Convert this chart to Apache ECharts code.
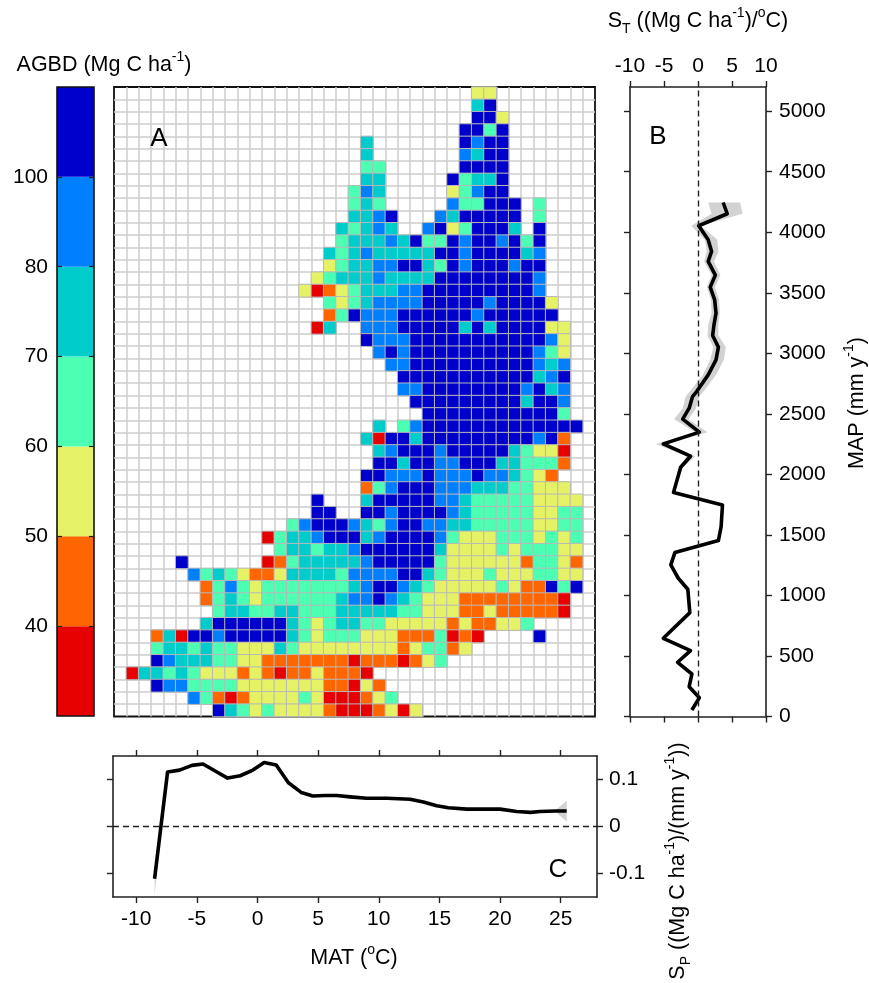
<!DOCTYPE html>
<html>
<head>
<meta charset="utf-8">
<style>html,body{margin:0;padding:0;background:#fff}#c{width:869px;height:983px}</style>
<script src="https://cdn.jsdelivr.net/npm/echarts@6/dist/echarts.min.js"></script>
</head>
<body>
<div id="c"></div>
<script>
// Classes of AGBD, low to high
const classCodes = ['R','O','Y','G','T','B','D'];
const classColors = ['#e60000','#ff6600','#e6f266','#4dffb3','#00cccc','#0080ff','#0000cc'];
const colorbarEdgeLabels = ['', '40', '50', '60', '70', '80', '100', ''];
const colorbarEdges = [1,2,3,4,5,6];

// Grid of cells: first occupied column per row, then class letters ('.' = no data)
const rowStart = [29,29,29,28,20,20,20,20,19,19,19,18,18,17,17,16,15,17,17,16,20,21,22,23,23,24,25,21,20,21,21,20,20,16,16,14,12,13,5,6,7,7,8,7,3,3,3,1,3,6,8];
const rowCells = [
'YY','TD','DDY','DDGD',
'T.......DBDD',
'T.......BTDD',
'GG......DDDD',
'TT.....DGTTD',
'GBT.....YGBDD',
'GTG.....BGGDDD.G',
'TTBD...BTDDDDD.G',
'TGTBT..BDYGDDDT.D',
'GTTTBTDGGDBDDBDGD',
'TGTBTTTTTDDBDDDDTB',
'YGTTBBDDTGDBDDDBDD',
'YGTTTBTTTTDDDDDDDDB',
'YROYGTTTBBDDDDDDDDDB',
'GYGTBBBBDDDDDBDDDDY',
'OGDBBBDDDDDDBDDDDDD',
'RT..BBBDDDDDTDTDDDDYY',
'DBBBDDDDDDDDDDDBY',
'BDBDDDDDDDDDDBGY',
'BBDDDDDDDDDDBTB',
'DDDDDDDDDDDTBD',
'BBDDDDDDDDBDTB',
'DDDDDDDDDTDDB',
'DDDDDDDDDDDG',
'T.GBDDDDDDDDDDDDD',
'TRDDTDDDDDDDDDBDO',
'TBDDDBDDDDDTGYYR',
'DDTDDBBDDDTTGGGO',
'DDBBBDBBBDBBTGYO',
'OGBDDDBBBTTTGGYYY',
'D...TDDDDDBBTGGGGGYYYY',
'DD..DDBDDDDBTGGGGGYYGG',
'GBDDDBTGBDDBBTTGGGGGYYGG',
'RGTTBDDDTBDDDDBGYYYGGGYGYG',
'GTTGTTBDDDDDDTYYYYGYGGGYY',
'D......ROGTTTTTBDDDDDGYYYYYYOGGYO',
'BGTGYOOYTTTTGBBBBDDTGYYYGYYYGGYY',
'OGBGYGGGGGGGTBDDBTGYYYYYGYOODGD',
'OGTGYGGGGGGTBBDBTGYYYOOOOOOOOR',
'GTTGGTTGGGTTTTTGGYYYOOYOOOOOR',
'TDDDDDDTGYGTTGGYYYYYOYOOYYG',
'OTRDDBDDDDDTGYGGGYYYOOOGROR....D',
'GTTGTGGYYYTGYYYYYYYYOYGGOY',
'DBTTTGGYYOOOOOOOROOOROYG',
'RTTGTGYYYOYOROOYOOOR',
'DBBGGGGYYYYYYYOORYO',
'BGOROYYYYGYRRROYG',
'DTGYGYYYYORRROYRY'
];

// Panel B: S_T against MAP
const mapValues = [54,155,246,351,448,544,646,858,1051,1142,1252,1354,1453,1569,1748,1850,2059,2150,2252,2349,2456,2547,2643,2684,2822,2946,3051,3147,3235,3332,3442,3547,3646,3759,3842,3938,4054,4153,4246];
const stValues  = [-0.9,0.2,-1.3,-0.9,-3.0,-1.1,-5.1,-1.2,-1.5,-2.9,-4.0,-3.4,3.0,3.4,3.6,-3.6,-2.55,-1.1,-5.1,0.2,-2.25,-1.3,-0.8,-0.2,1.5,2.65,3.0,2.15,2.35,2.65,2.45,1.8,2.55,1.5,2.0,1.5,0.1,4.3,3.7];
const stLower   = [-1.0,0.1,-1.4,-1.0,-3.1,-1.2,-5.2,-1.3,-1.6,-3.0,-4.1,-3.5,2.9,3.3,3.5,-3.7,-2.8,-1.7,-6.2,-0.4,-3.5,-2.25,-1.8,-1.2,0.7,1.8,2.25,1.4,1.5,2.0,1.9,1.3,2.0,0.9,1.3,1.0,-1.0,2.0,1.5];
const stUpper   = [-0.8,0.3,-1.2,-0.8,-2.9,-1.0,-5.0,-1.1,-1.4,-2.8,-3.9,-3.3,3.1,3.5,3.7,-3.5,-2.2,-0.4,-4.4,1.4,-1.4,-0.3,0.2,0.8,2.65,3.8,4.1,3.0,3.0,3.2,3.1,2.5,3.3,2.35,3.0,2.85,0.4,6.55,6.2];

// Panel C: S_P against MAT
const matValues = [-8.49,-7.42,-6.43,-5.41,-4.5,-3.49,-2.47,-1.43,-0.38,0.55,1.54,2.55,3.6,4.56,5.58,6.54,7.64,9.0,10.66,12.58,13.68,14.78,15.74,17.25,18.63,20,21.37,22.53,23.3,24.6,25.5];
const spValues  = [-0.111,0.116,0.12,0.13,0.133,0.118,0.103,0.108,0.12,0.136,0.131,0.093,0.0725,0.065,0.066,0.066,0.063,0.06,0.06,0.058,0.052,0.044,0.04,0.037,0.037,0.037,0.032,0.03,0.032,0.033,0.033];
const spLower   = [-0.145,0.115,0.119,0.129,0.132,0.117,0.102,0.107,0.119,0.135,0.13,0.092,0.0715,0.064,0.065,0.065,0.062,0.059,0.059,0.057,0.051,0.043,0.039,0.036,0.036,0.036,0.031,0.029,0.031,0.031,0.0106];
const spUpper   = [-0.085,0.117,0.121,0.131,0.134,0.119,0.104,0.109,0.121,0.137,0.132,0.094,0.0735,0.066,0.067,0.067,0.064,0.061,0.061,0.059,0.053,0.045,0.041,0.038,0.038,0.038,0.033,0.031,0.033,0.035,0.055];

const mapTicks = [0,500,1000,1500,2000,2500,3000,3500,4000,4500,5000];
const stTicks = [-10,-5,0,5,10];
const matTicks = [-10,-5,0,5,10,15,20,25];
const spTicks = [-0.1,0,0.1];

const FONT = '"Liberation Sans", Arial, sans-serif';
const FS = 21;

const colCount = 39, rowCount = 51;
const colNames = Array.from({length: colCount}, (_, i) => String(i));
const rowNames = Array.from({length: rowCount}, (_, i) => String(i));
const cellData = [];
rowCells.forEach((s, r) => {
  for (let k = 0; k < s.length; k++) {
    const cls = classCodes.indexOf(s[k]);
    if (cls >= 0) cellData.push([rowStart[r] + k, r, cls]);
  }
});

const GREY = '#cdcdcd';
const axisLine = {show: true, onZero: false, lineStyle: {color: '#222', width: 1.6}};
const noLine = {show: false};
const gridLines = {show: true, interval: 0, showMinLine: false, showMaxLine: false, lineStyle: {color: GREY, width: 1.5}};

function frameAxis(o) {
  return Object.assign({
    type: 'value', axisLine: axisLine, splitLine: {show: false},
    axisLabel: {show: false}
  }, o);
}
function ticksAt(vals, len) {
  return {show: true, inside: false, length: len || 6, customValues: vals, lineStyle: {color: '#222', width: 1.4}};
}
function labelsAt(vals, margin) {
  return {show: true, customValues: vals, margin: margin, color: '#000', fontFamily: FONT, fontSize: FS,
    showMinLabel: true, showMaxLabel: true, formatter: v => String(v)};
}

function polygonBand(xs, ys, horizontalIsValue) {
  return function (params, api) {
    if (params.dataIndex !== 0) return;
    const pts = [];
    const n = xs.lo.length;
    for (let i = 0; i < n; i++) pts.push(api.coord(horizontalIsValue ? [xs.lo[i], ys[i]] : [ys[i], xs.lo[i]]));
    for (let i = n - 1; i >= 0; i--) pts.push(api.coord(horizontalIsValue ? [xs.hi[i], ys[i]] : [ys[i], xs.hi[i]]));
    return {type: 'polygon', shape: {points: pts}, style: {fill: '#d2d2d2'}};
  };
}

const RICH = {
  n:  {fontFamily: FONT, fontSize: 21.5, lineHeight: 30, verticalAlign: 'middle', fill: '#000', color: '#000'},
  s:  {fontFamily: FONT, fontSize: 14, lineHeight: 30, verticalAlign: 'top', fill: '#000', color: '#000'},
  b:  {fontFamily: FONT, fontSize: 14, lineHeight: 30, verticalAlign: 'bottom', fill: '#000', color: '#000'}
};
function richText(x, y, text, rotation) {
  return {
    type: 'text', x: x, y: y, rotation: rotation || 0, z: 20,
    style: {text: text, rich: RICH, align: 'center', verticalAlign: 'middle', fill: '#000', font: '21.5px ' + FONT}
  };
}
function plainLetter(x, y, t) {
  return {type: 'text', x: x, y: y, z: 20,
    style: {text: t, fill: '#000', font: '26px ' + FONT, align: 'center', verticalAlign: 'middle'}};
}

const colorbarSeries = classColors.map((c, i) => ({
  type: 'bar', xAxisIndex: 0, yAxisIndex: 0, stack: 'bar', barWidth: '100%',
  data: [1], itemStyle: {color: c}, silent: true, animation: false
}));

const barTick = {show: true, inside: true, length: 5, customValues: colorbarEdges, lineStyle: {color: '#222', width: 1.2}};

const option = {
  animation: false,
  backgroundColor: '#fff',
  textStyle: {fontFamily: FONT},
  grid: [
    {left: 57, top: 87, width: 37, height: 629, show: true, borderColor: '#111', borderWidth: 1.6, backgroundColor: 'transparent', z: 5},
    {left: 114, top: 87, width: 481, height: 629.5, show: true, borderColor: '#111', borderWidth: 1.8, backgroundColor: '#fff'},
    {left: 630, top: 87, width: 136, height: 629.5},
    {left: 113, top: 756, width: 484, height: 141}
  ],
  xAxis: [
    {gridIndex: 0, type: 'category', data: ['AGBD'], show: false},
    {gridIndex: 1, type: 'category', data: colNames, axisLine: noLine, axisTick: {show: false}, axisLabel: {show: false}, splitLine: gridLines},
    frameAxis({gridIndex: 2, position: 'top', min: -10, max: 10, axisTick: ticksAt(stTicks), axisLabel: labelsAt(stTicks, 10)}),
    frameAxis({gridIndex: 2, position: 'bottom', min: -10, max: 10, axisTick: ticksAt(stTicks)}),
    frameAxis({gridIndex: 3, position: 'bottom', min: -11.92, max: 28, axisTick: ticksAt(matTicks), axisLabel: labelsAt(matTicks, 12)}),
    frameAxis({gridIndex: 3, position: 'top', min: -11.92, max: 28, axisTick: ticksAt(matTicks)})
  ],
  yAxis: [
    {gridIndex: 0, type: 'value', position: 'left', z: 10, min: 0, max: 7, interval: 1, axisLine: noLine, axisTick: barTick, splitLine: {show: false},
      axisLabel: {show: true, margin: 9, color: '#000', fontFamily: FONT, fontSize: FS, showMinLabel: true, showMaxLabel: true,
        formatter: v => colorbarEdgeLabels[v]}},
    {gridIndex: 1, type: 'category', data: rowNames, inverse: true, axisLine: noLine, axisTick: {show: false}, axisLabel: {show: false}, splitLine: gridLines},
    frameAxis({gridIndex: 2, position: 'right', min: 0, max: 5200, axisTick: ticksAt(mapTicks), axisLabel: labelsAt(mapTicks, 13)}),
    frameAxis({gridIndex: 2, position: 'left', min: 0, max: 5200, axisTick: ticksAt(mapTicks)}),
    frameAxis({gridIndex: 3, position: 'right', min: -0.15, max: 0.15, axisTick: ticksAt(spTicks), axisLabel: labelsAt(spTicks, 12)}),
    frameAxis({gridIndex: 3, position: 'left', min: -0.15, max: 0.15, axisTick: ticksAt(spTicks)}),
    {gridIndex: 0, type: 'value', position: 'right', z: 10, min: 0, max: 7, interval: 1, axisLine: noLine, axisTick: barTick, axisLabel: {show: false}, splitLine: {show: false}}
  ],
  visualMap: {
    type: 'piecewise', show: false, dimension: 2, seriesIndex: colorbarSeries.length,
    pieces: classColors.map((c, i) => ({value: i, color: c}))
  },
  series: colorbarSeries.concat([
    {type: 'heatmap', xAxisIndex: 1, yAxisIndex: 1, data: cellData, silent: true, progressive: 0,
      itemStyle: {borderColor: '#b8b8b8', borderWidth: 1}, emphasis: {disabled: true}},
    {type: 'custom', xAxisIndex: 2, yAxisIndex: 2, silent: true, z: 1,
      renderItem: polygonBand({lo: stLower, hi: stUpper}, mapValues, true),
      encode: {x: [0, 1], y: 2},
      data: mapValues.map((m, i) => [stLower[i], stUpper[i], m])},
    {type: 'line', xAxisIndex: 2, yAxisIndex: 2, silent: true, z: 3, showSymbol: false, symbol: 'none',
      data: mapValues.map((m, i) => [stValues[i], m]),
      lineStyle: {color: '#000', width: 3.6, join: 'round'},
      markLine: {silent: true, symbol: 'none', label: {show: false}, animation: false,
        lineStyle: {color: '#222', type: [6, 4], width: 1.4}, data: [{xAxis: 0}]}},
    {type: 'custom', xAxisIndex: 4, yAxisIndex: 4, silent: true, z: 1,
      renderItem: polygonBand({lo: spLower, hi: spUpper}, matValues, false),
      encode: {x: 0, y: [1, 2]},
      data: matValues.map((m, i) => [m, spLower[i], spUpper[i]])},
    {type: 'line', xAxisIndex: 4, yAxisIndex: 4, silent: true, z: 3, showSymbol: false, symbol: 'none',
      data: matValues.map((m, i) => [m, spValues[i]]),
      lineStyle: {color: '#000', width: 3.6, join: 'round'},
      markLine: {silent: true, symbol: 'none', label: {show: false}, animation: false,
        lineStyle: {color: '#222', type: [6, 4], width: 1.4}, data: [{yAxis: 0}]}}
  ]),
  graphic: [
    richText(104, 65, '{n|AGBD (Mg C ha}{s|-1}{n|)}'),
    richText(698, 21, '{n|S}{b|T}{n| ((Mg C ha}{s|-1}{n|)/}{s|o}{n|C)}'),
    richText(857, 403, '{n|MAP (mm y}{s|-1}{n|)}', Math.PI / 2),
    richText(354, 958, '{n|MAT (}{s|o}{n|C)}'),
    richText(678, 861, '{n|S}{b|P}{n| ((Mg C ha}{s|-1}{n|)/(mm y}{s|-1}{n|))}', Math.PI / 2),
    plainLetter(159, 139, 'A'),
    plainLetter(658, 137, 'B'),
    plainLetter(558, 870, 'C')
  ]
};

const chart = echarts.init(document.getElementById('c'), null, {renderer: 'canvas'});
chart.setOption(option);
</script>
</body>
</html>
